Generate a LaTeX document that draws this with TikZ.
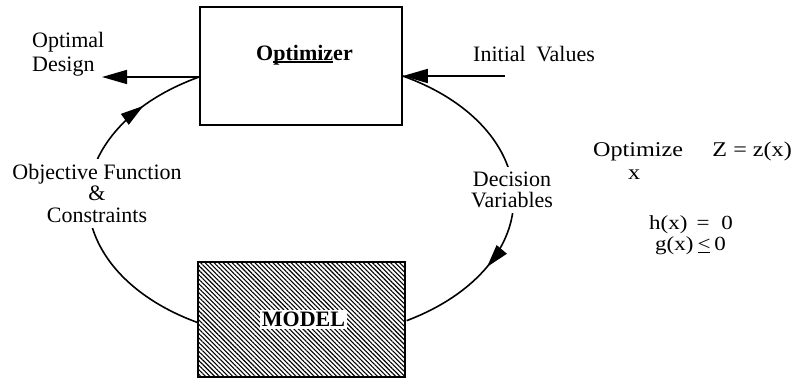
\documentclass[tikz,border=0pt]{standalone}
\usepackage{fontspec}
\setmainfont{Liberation Serif}
\newfontfamily\eqfont[FakeStretch=1.15]{Liberation Serif}
\usetikzlibrary{arrows.meta,patterns.meta,decorations.markings,calc}
\pgfdeclarelayer{bg}
\pgfsetlayers{bg,main}
\newcommand\ulpart[1]{\setbox0\hbox{#1}\rlap{\rule[-2.2pt]{\wd0}{1.3pt}}\box0}
\newcommand\ulless{\setbox0\hbox{<}\rlap{\rule[-2.5pt]{\wd0}{1pt}}\box0}
\begin{document}
\begin{tikzpicture}[x=1pt,y=-1pt,
  every node/.style={font=\fontsize{22}{22}\selectfont},
  box/.style={draw, line width=1.6pt, inner sep=0pt},
  lbl/.style={fill=white, inner xsep=3pt, inner ysep=5pt, align=center},
  plain/.style={inner sep=0pt},
  eq/.style={inner sep=0pt, font=\eqfont\fontsize{21}{21}\selectfont},
  eqs/.style={inner sep=0pt, font=\eqfont\fontsize{20}{20}\selectfont},
  conn/.style={line width=1.6pt},
  tip/.style={-{Triangle[length=25pt,width=14pt]}},
  midtip/.style={postaction={decorate, decoration={markings,
      mark=at position #1 with {\arrow{Triangle[length=23pt,width=13pt]}}}}},
  ]
\useasboundingbox (0,0) rectangle (795,379);

% boxes
\node[box, fill=white, minimum width=202pt, minimum height=118pt] (opt) at (301,66) {};
\node[box, minimum width=207pt, minimum height=115pt, preaction={fill=white},
      pattern={Lines[angle=-45,distance=3.2pt,line width=1.1pt]}] (model) at (301.5,319.5) {};

% connection points
\coordinate (oL) at ($(opt.west)+(0,11)$);
\coordinate (oR) at ($(opt.east)+(0,10)$);
\coordinate (mL) at ($(model.west)+(0,3)$);
\coordinate (odTip) at (102,77);
\coordinate (ivStart) at (505,76);

% loop arcs
\begin{pgfonlayer}{bg}
\draw[conn, midtip=0.82] (mL) arc[start angle=119, end angle=241.6, x radius=212, y radius=140];
\draw[conn, midtip=0.72] (oR) arc[start angle=-61.5, end angle=60.3, x radius=212, y radius=140];
\end{pgfonlayer}

% straight arrows
\draw[conn, tip] (oL) -- (odTip);
\draw[conn, tip] (ivStart) -- (oR);

% labels
\node[plain, anchor=base] (optlbl) at (304.5,60.5) {\bfseries O\ulpart{ptimiz}er};
\node[fill=white, inner sep=2pt, anchor=base] (modellbl) at (303.5,326.5) {\bfseries MODEL};
\node[plain, anchor=north west, align=left, font=\fontsize{22}{24}\selectfont] (optdes) at (32,32) {Optimal\\Design};
\node[plain, anchor=base west] (init) at (473,62) {Initial\hspace{10.5pt}Values};
\node[lbl, anchor=north, font=\fontsize{22}{21.5}\selectfont] (obj) at (97,159) {Objective Function\\\&\\Constraints};
\node[lbl, anchor=north, font=\fontsize{22}{21}\selectfont] (dec) at (512,166.5) {Decision\\Variables};

% equations
\node[eq, anchor=base west] (e1) at (593,157) {Optimize};
\node[eq, anchor=base east] (e2) at (792,157) {Z = z(x)};
\node[eq, anchor=base west] (e3) at (628,180) {x};
\node[eqs, anchor=base west] (e4) at (649,230) {h(x)\hspace{9pt}=\hspace{12pt}0};
\node[eqs, anchor=base west] (e5) at (655,251) {g(x)\hspace{4pt}\ulless\hspace{4pt}0};
\end{tikzpicture}
\end{document}
